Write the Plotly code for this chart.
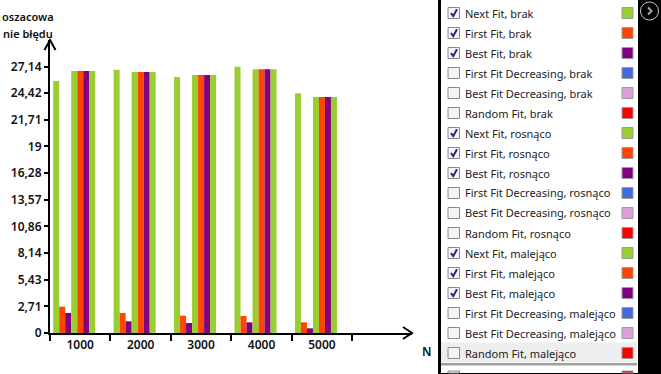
import plotly.graph_objects as go

W, H = 661, 374
categories = ["1000", "2000", "3000", "4000", "5000"]
series_names = [
    "Next Fit, brak", "First Fit, brak", "Best Fit, brak",
    "First Fit Decreasing, brak", "Best Fit Decreasing, brak", "Random Fit, brak",
    "Next Fit, rosnąco", "First Fit, rosnąco", "Best Fit, rosnąco",
    "First Fit Decreasing, rosnąco", "Best Fit Decreasing, rosnąco", "Random Fit, rosnąco",
    "Next Fit, malejąco", "First Fit, malejąco", "Best Fit, malejąco",
    "First Fit Decreasing, malejąco", "Best Fit Decreasing, malejąco", "Random Fit, malejąco",
]
series_colors = ["#9ACD32", "#FF4500", "#800080", "#4169E1", "#DDA0DD", "#FF0000"] * 3
series_checked = [True, True, True, False, False, False] * 3

next_brak = [25.66, 26.81, 26.07, 27.12, 24.41]
first_brak = [2.68, 2.04, 1.76, 1.73, 1.09]
best_brak = [2.04, 1.19, 1.02, 1.09, 0.48]
next_ros = [26.68, 26.58, 26.27, 26.85, 24.03]
first_ros = [26.68, 26.58, 26.27, 26.85, 24.03]
best_ros = [26.68, 26.58, 26.27, 26.85, 24.03]
next_mal = [26.68, 26.58, 26.27, 26.85, 24.03]
first_mal = [0, 0, 0, 0, 0]
best_mal = [0, 0, 0, 0, 0]
shown_values = [next_brak, first_brak, best_brak, next_ros, first_ros, best_ros,
                next_mal, first_mal, best_mal]
shown_names = [n for n, c in zip(series_names, series_checked) if c]
shown_colors = [k for k, c in zip(series_colors, series_checked) if c]

y_ticks = [0, 2.714, 5.428, 8.142, 10.856, 13.57, 16.284, 18.998, 21.712, 24.426, 27.14]
y_labels = ["0", "2,71", "5,43", "8,14", "10,86", "13,57", "16,28", "19", "21,71", "24,42", "27,14"]

FONT = "Noto Sans"
px = lambda x: x / W
py = lambda y: 1 - y / H

fig = go.Figure()
for name, vals, col in zip(shown_names, shown_values, shown_colors):
    fig.add_bar(x=categories, y=vals, name=name, marker=dict(color=col, line_width=0))

shapes = []
ann = []

def rect(x0, y0, x1, y1, fill, line=None, lw=0):
    shapes.append(dict(type="rect", xref="paper", yref="paper", x0=px(x0), x1=px(x1),
                       y0=py(y0), y1=py(y1), fillcolor=fill, layer="above",
                       line=dict(color=line or fill, width=lw)))

def path(pts, color, lw=2):
    d = "M" + " L".join(f"{px(a):.5f},{py(b):.5f}" for a, b in pts)
    shapes.append(dict(type="path", xref="paper", yref="paper", path=d, layer="above",
                       line=dict(color=color, width=lw)))

def text(x, y, s, size=12, color="#1a1a1a", anchor="left", weight=None):
    ann.append(dict(xref="paper", yref="paper", x=px(x), y=py(y), text=s, showarrow=False,
                    xanchor=anchor, yanchor="middle", borderpad=0,
                    font=dict(family=FONT, size=size, color=color, weight=weight)))

# axis arrows
path([(44.5, 50), (50, 40), (55.5, 50)], "black", 2)
path([(403, 327), (412, 333), (403, 339)], "black", 2)
# axis titles
text(28, 17, "oszacowa", 11, "#111", "center", 600)
text(28, 33, "nie błędu", 11, "#111", "center", 600)
text(427, 351, "N", 12, "#111", "center", 600)

# side panel
rect(438, -1, 661, 375, "black")
rect(441, -1, 638, 373, "white")
rect(441, 342.5, 637, 362.5, "#EEEEEE")
rect(441, 363, 637, 365.5, "#A0A0A0")
ROW0, STEP = 13.0, 20.0
for i, (name, col, chk) in enumerate(zip(series_names, series_colors, series_checked)):
    yc = ROW0 + STEP * i
    rect(448, yc - 5.5, 459.5, yc + 5.5, "#F4F4F4", "#8A8A8A", 1)
    if chk:
        path([(451, yc), (453.2, yc + 3.2), (457, yc - 3.8)], "#26268C", 2)
    text(464, yc, name, 11, "#222")
    rect(622, yc - 5.5, 633, yc + 5.5, col, "#9A9A9A", 1)
# clipped row below the list: only its top edge is visible
rect(448, 371, 459.5, 373, "#F4F4F4", "#8A8A8A", 1)
rect(622, 371, 633, 373, "#FF0000", "#9A9A9A", 1)
# collapse button
shapes.append(dict(type="circle", xref="paper", yref="paper", x0=px(640.5), x1=px(658.5),
                   y0=py(2), y1=py(20), fillcolor="black", layer="above",
                   line=dict(color="#C8C8C8", width=1)))
path([(648, 7.5), (651.5, 11), (648, 14.5)], "#A8A8A8", 2)

fig.update_layout(
    width=W, height=H, autosize=False, showlegend=False,
    paper_bgcolor="white", plot_bgcolor="white",
    margin=dict(l=0, r=0, t=0, b=0, autoexpand=False),
    barmode="group", bargap=0.106, bargroupgap=0,
    font=dict(family=FONT, size=12, color="#111"),
    shapes=shapes, annotations=ann,
    xaxis=dict(type="category", categoryorder="array", categoryarray=categories,
               domain=[50 / W, 412 / W],
               range=[-0.5, 5.49], tickson="boundaries", ticks="outside", ticklen=6,
               tickwidth=2, tickcolor="black", showgrid=False, zeroline=False,
               showline=True, linecolor="black", linewidth=2,
               tickfont=dict(family=FONT, size=12, weight=600, color="#111")),
    yaxis=dict(range=[0, 29.84], tickmode="array", tickvals=y_ticks, ticktext=y_labels,
               domain=[1 - 333 / H, 1 - 40 / H],
               ticks="outside", ticklen=4, tickwidth=2, tickcolor="black", showgrid=False,
               zeroline=False, showline=True, linecolor="black", linewidth=2,
               tickfont=dict(family=FONT, size=12, weight=600, color="#111")),
)
fig.write_html("out.html", config={"displayModeBar": False},
               post_script="document.body.style.margin='0';document.body.style.overflow='hidden';")
